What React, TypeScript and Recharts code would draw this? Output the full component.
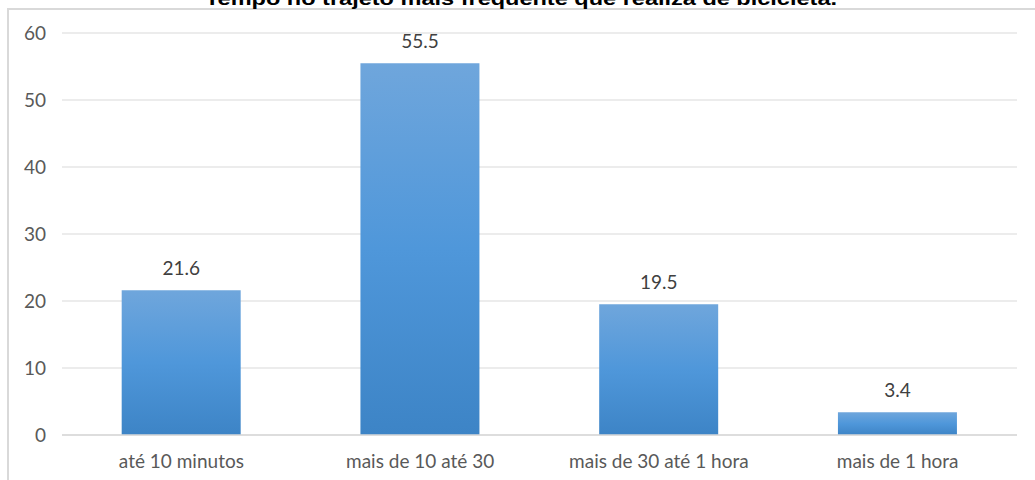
import React from 'react';
import { BarChart, Bar, XAxis, YAxis, CartesianGrid, LabelList } from 'recharts';

const categories = ['até 10 minutos', 'mais de 10 até 30', 'mais de 30 até 1 hora', 'mais de 1 hora'];
const values = [21.6, 55.5, 19.5, 3.4];
const yTicks = [0, 10, 20, 30, 40, 50, 60];
const title = 'Tempo no trajeto mais frequente que realiza de bicicleta.';

const data = categories.map((c, i) => ({ name: c, value: values[i] }));

const FONT = 'Lato, "Open Sans", sans-serif';

export default function App() {
  return (
    <div style={{ position: 'fixed', left: 0, top: 0, width: 1035, height: 480, overflow: 'hidden', background: '#fff' }}>
      <div
        style={{
          position: 'absolute', left: 7, top: 8, width: 1060, height: 520,
          border: '2px solid #d9d9d9', boxSizing: 'border-box',
        }}
      />
      <svg style={{ position: 'absolute', left: 0, top: 0 }} width={1035} height={20}>
        <text
          x={521}
          y={5}
          textAnchor="middle"
          fontFamily='"Liberation Sans", Arial, sans-serif'
          fontWeight="bold"
          fontSize={18}
          fill="#000"
          textLength={632}
          lengthAdjust="spacingAndGlyphs"
        >
          {title}
        </text>
      </svg>
      <div style={{ position: 'absolute', left: 0, top: 0 }}>
        <BarChart
          width={1035}
          height={480}
          data={data}
          margin={{ top: 33, right: 18, bottom: 15, left: 8 }}
          barCategoryGap="25%"
        >
          <defs>
            <linearGradient id="barGrad" x1="0" y1="0" x2="0" y2="1">
              <stop offset="0%" stopColor="#6fa6dc" />
              <stop offset="50%" stopColor="#4f97da" />
              <stop offset="100%" stopColor="#3d84c6" />
            </linearGradient>
          </defs>
          <CartesianGrid vertical={false} stroke="#d9d9d9" strokeWidth={1} />
          <XAxis
            dataKey="name"
            height={30}
            axisLine={{ stroke: '#d9d9d9', strokeWidth: 1.5 }}
            tickLine={false}
            tickSize={0}
            tickMargin={20}
            tick={{ fill: '#595959', fontSize: 19, fontFamily: FONT }}
          />
          <YAxis
            domain={[0, 60]}
            ticks={yTicks}
            width={54}
            axisLine={false}
            tickLine={false}
            tickSize={0}
            tickMargin={16}
            tick={{ fill: '#595959', fontSize: 19, fontFamily: FONT }}
          />
          <Bar dataKey="value" fill="url(#barGrad)" isAnimationActive={false}>
            <LabelList dataKey="value" position="top" offset={15} fill="#404040" fontSize={19} fontFamily={FONT} />
          </Bar>
        </BarChart>
      </div>
    </div>
  );
}
